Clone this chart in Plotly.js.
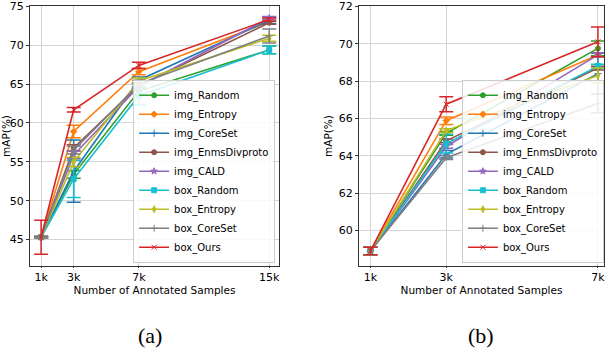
<!DOCTYPE html>
<html>
<head>
<meta charset="utf-8">
<script src="https://cdn.plot.ly/plotly-3.0.1.min.js"></script>
<style>
  html, body { margin: 0; padding: 0; background: #fff; }
  #plot { width: 610px; height: 348px; }
</style>
</head>
<body>
<div id="plot"></div>
<script>
// series names, colours and markers (same order in both panels)
var names = ['img_Random', 'img_Entropy', 'img_CoreSet', 'img_EnmsDivproto', 'img_CALD',
             'box_Random', 'box_Entropy', 'box_CoreSet', 'box_Ours'];
var colors = ['#2ca02c', '#ff7f0e', '#1f77b4', '#8c564b', '#9467bd',
              '#17becf', '#bcbd22', '#7f7f7f', '#d62728'];
var symbols = ['circle', 'diamond', 'cross-thin-open', 'circle', 'star',
               'square', 'diamond-tall', 'cross-thin-open', 'x-thin-open'];

// panel (a)
var xA = [1, 3, 7, 15];
var ticksA = ['1k', '3k', '7k', '15k'];
var meanA = [
  [45.3, 53.4, 64.1, 69.4],
  [45.3, 58.9, 66.6, 73.0],
  [45.3, 53.8, 65.5, 73.2],
  [45.3, 56.8, 64.8, 72.9],
  [45.3, 55.9, 64.7, 73.5],
  [45.3, 52.8, 63.5, 69.4],
  [45.3, 55.0, 65.4, 70.9],
  [45.3, 56.5, 65.0, 71.2],
  [45.3, 61.7, 67.4, 73.3]
];
var errA = [
  [0.1, 0.5, 0.3, 0.5],
  [0.1, 0.8, 0.4, 0.3],
  [0.1, 4.0, 0.4, 0.4],
  [0.1, 0.4, 0.3, 0.2],
  [0.1, 0.5, 0.3, 0.2],
  [0.1, 2.4, 1.2, 0.5],
  [0.1, 0.6, 0.4, 0.4],
  [0.1, 0.5, 0.5, 0.9],
  [2.2, 0.3, 0.4, 0.2]
];

// panel (b)
var xB = [1, 3, 7];
var ticksB = ['1k', '3k', '7k'];
var meanB = [
  [58.9, 65.2, 69.75],
  [58.9, 65.88, 69.4],
  [58.9, 64.08, 68.4],
  [58.9, 64.8, 68.7],
  [58.9, 64.5, 69.4],
  [58.9, 64.65, 68.8],
  [58.9, 65.35, 68.3],
  [58.9, 63.9, 66.8],
  [58.9, 66.76, 70.1]
];
var errB = [
  [0.2, 0.1, 0.4],
  [0.2, 0.2, 0.1],
  [0.2, 0.2, 1.1],
  [0.2, 0.1, 0.1],
  [0.2, 0.1, 0.1],
  [0.2, 0.5, 0.1],
  [0.2, 0.1, 0.4],
  [0.2, 0.1, 0.5],
  [0.2, 0.4, 0.8]
];

var data = [];
function addPanel(xs, means, errs, xaxis, yaxis, legend) {
  for (var i = 0; i < names.length; i++) {
    data.push({
      x: xs, y: means[i],
      name: names[i],
      xaxis: xaxis, yaxis: yaxis, legend: legend,
      type: 'scatter', mode: 'lines+markers',
      line: {color: colors[i], width: 1.6},
      marker: {color: colors[i], size: 5, symbol: symbols[i], line: {color: colors[i], width: 1}},
      error_y: {type: 'data', array: errs[i], visible: true, color: colors[i], thickness: 1.5, width: 7}
    });
  }
}
addPanel(xA, meanA, errA, 'x', 'y', 'legend');
addPanel(xB, meanB, errB, 'x2', 'y2', 'legend2');

var tickFont = {family: 'DejaVu Sans', size: 11, color: '#000'};
function axis(extra) {
  var a = {
    showline: true, mirror: true, linecolor: '#333', linewidth: 1,
    showgrid: true, gridcolor: '#d4d4d4', gridwidth: 1,
    zeroline: false, ticks: 'outside', ticklen: 3, tickcolor: '#333',
    tickfont: tickFont, ticklabeloverflow: 'allow'
  };
  for (var k in extra) a[k] = extra[k];
  return a;
}
var titleFont = {family: 'DejaVu Sans', size: 10.5, color: '#000'};
var legendBase = {
  bgcolor: 'rgba(255,255,255,0.85)', bordercolor: '#ccc', borderwidth: 1,
  font: {family: 'DejaVu Sans', size: 10, color: '#000'},
  xanchor: 'right', yanchor: 'bottom', y: 0.245, tracegroupgap: 0
};
var leg1 = Object.assign({}, legendBase, {x: 0.451});
var leg2 = Object.assign({}, legendBase, {x: 0.99});

var yDomain = [0.2356, 0.9828];

var layout = {
  width: 610, height: 348,
  margin: {l: 0, r: 0, t: 0, b: 0},
  paper_bgcolor: '#fff', plot_bgcolor: '#fff',
  showlegend: true,
  legend: leg1, legend2: leg2,
  xaxis: axis({domain: [0.0492, 0.4574], range: [0.32, 15.6], tickvals: xA, ticktext: ticksA, ticklen: 1,
               anchor: 'y', title: {text: 'Number of Annotated Samples', font: titleFont, standoff: 0}}),
  yaxis: axis({domain: yDomain, range: [41.6, 75.05], tickvals: [45, 50, 55, 60, 65, 70, 75], anchor: 'x',
               title: {text: 'mAP(%)', font: titleFont, standoff: 4}}),
  xaxis2: axis({domain: [0.5885, 0.9902], range: [0.7, 7.16], tickvals: xB, ticktext: ticksB, ticklen: 1,
                anchor: 'y2', title: {text: 'Number of Annotated Samples', font: titleFont, standoff: 0}}),
  yaxis2: axis({domain: yDomain, range: [58.1, 72.02], tickvals: [60, 62, 64, 66, 68, 70, 72], anchor: 'x2',
                title: {text: 'mAP(%)', font: titleFont, standoff: 4}}),
  annotations: [
    {text: '(a)', xref: 'paper', yref: 'paper', x: 150 / 610, y: 1 - 335 / 348, showarrow: false,
     xanchor: 'center', yanchor: 'middle', font: {family: 'Liberation Serif', size: 22, color: '#000'}},
    {text: '(b)', xref: 'paper', yref: 'paper', x: 481 / 610, y: 1 - 335 / 348, showarrow: false,
     xanchor: 'center', yanchor: 'middle', font: {family: 'Liberation Serif', size: 22, color: '#000'}}
  ]
};

Plotly.newPlot('plot', data, layout, {displayModeBar: false, staticPlot: true});
</script>
</body>
</html>
